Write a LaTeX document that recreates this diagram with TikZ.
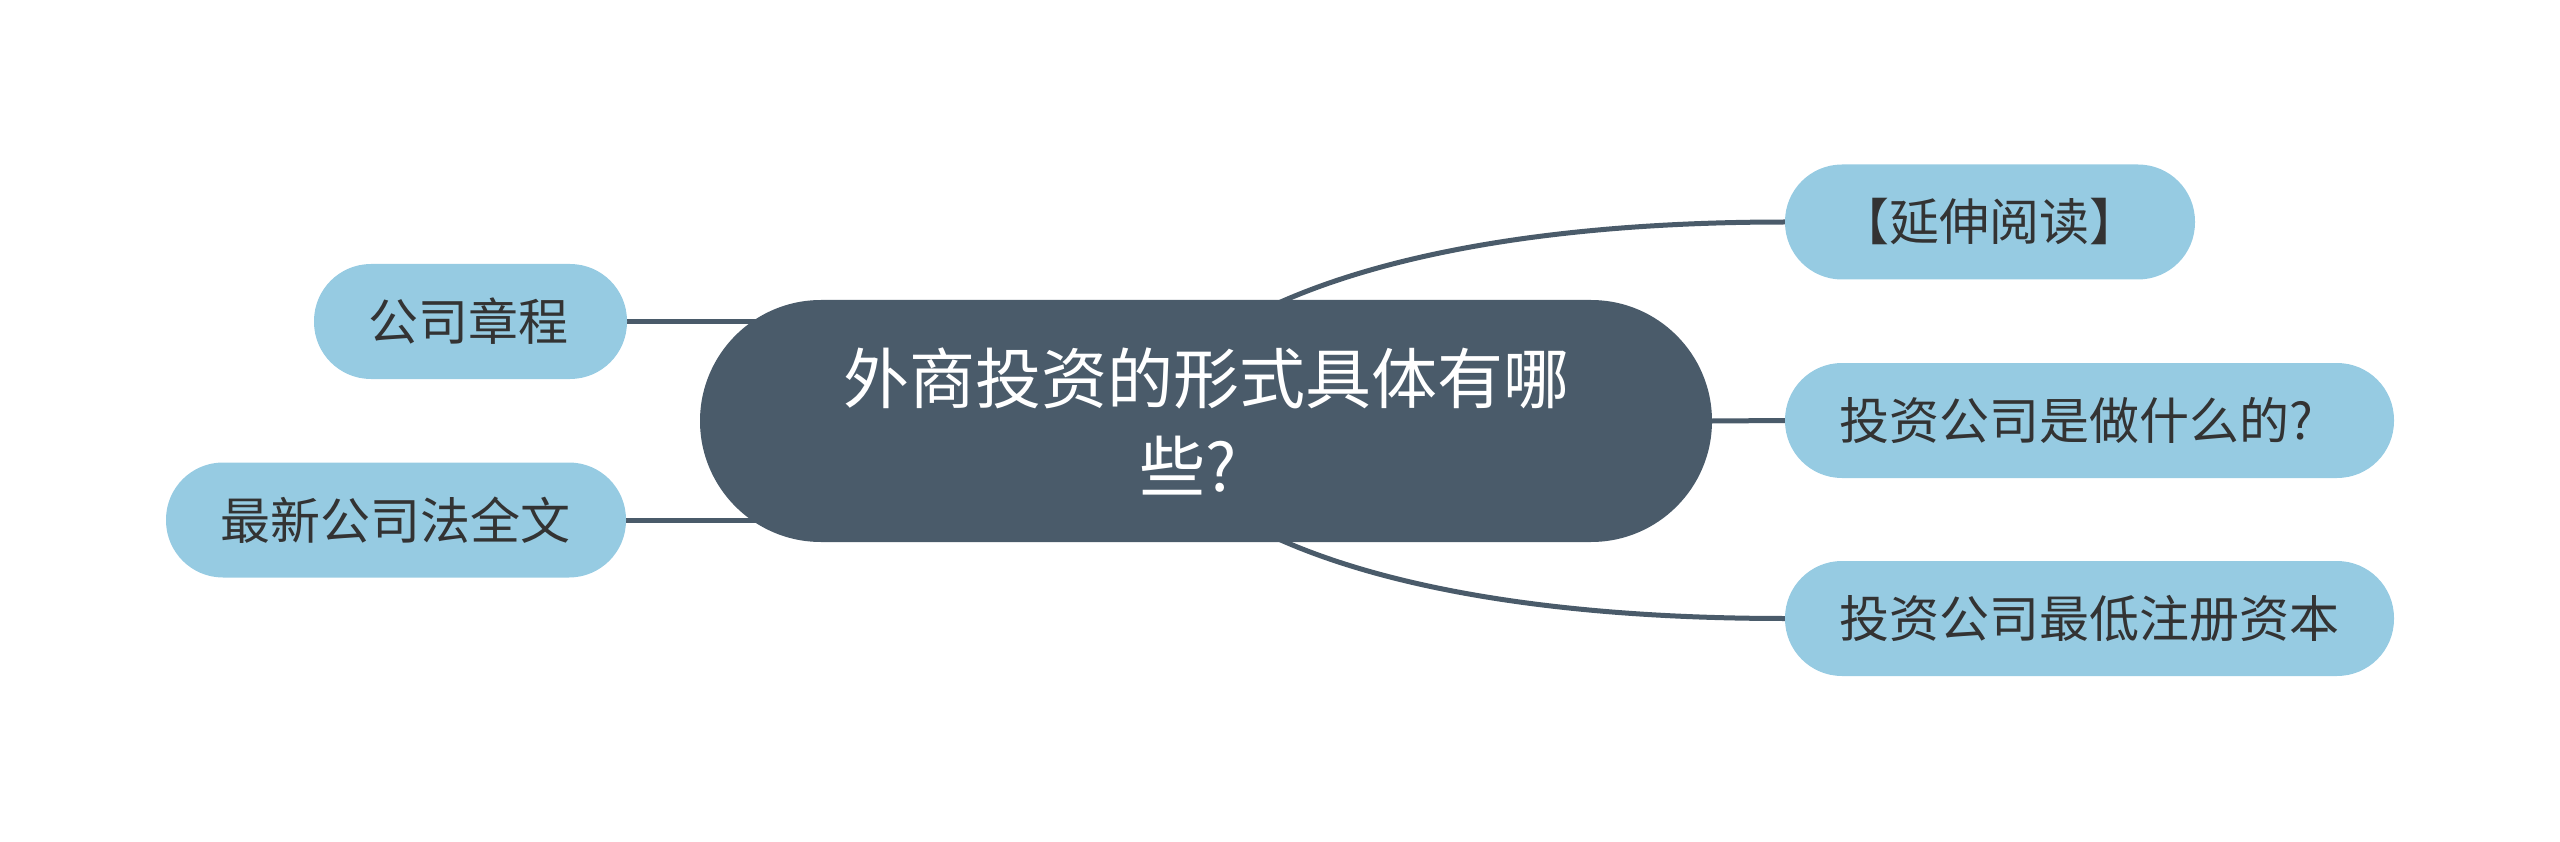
\documentclass[tikz,border=0pt]{standalone}
\usepackage{fontspec}
\newfontfamily\cjk{Noto Sans CJK SC}
\usetikzlibrary{backgrounds}
\definecolor{hub}{HTML}{4A5B6A}
\definecolor{leaf}{HTML}{96CBE2}
\definecolor{ink}{HTML}{333333}
\begin{document}
\begin{tikzpicture}[x=1pt,y=-1pt,
  hubnode/.style={fill=hub, text=white, font=\cjk\fontsize{66}{88}\selectfont,
    rounded corners=121pt, minimum width=1012pt, minimum height=242pt,
    inner sep=0pt, align=center},
  leafnode/.style={fill=leaf, text=ink, font=\cjk\fontsize{50}{60}\selectfont,
    rounded corners=57pt, minimum height=115pt, inner xsep=54pt, inner ysep=0pt,
    align=left},
  link/.style={draw=hub, line width=5pt}]
\useasboundingbox (0,0) rectangle (2560,842);
\node[hubnode] (c) at (1206,421) {外商投资的形式具体有哪\\些?\hspace*{36pt}};
\node[leafnode, text width=302pt] (r1) at (1990,222) {【延伸阅读】};
\node[leafnode, text width=501pt] (r2) at (2089.5,420.5) {投资公司是做什么的?};
\node[leafnode, text width=501pt] (r3) at (2089.5,618.5) {投资公司最低注册资本};
\node[leafnode, text width=205pt] (l1) at (470.5,321.5) {公司章程};
\node[leafnode, text width=352pt] (l2) at (396,520) {最新公司法全文};
\begin{scope}[on background layer]
\draw[link] (l1.east) -- (l1.east -| c.center);
\draw[link] (l2.east) -- (l2.east -| c.center);
\draw[link] (c.east) -- (r2.west);
\draw[link] ([shift={(62,8)}]c.north) .. controls +(110,-52) and +(-235,0) .. (r1.west);
\draw[link] ([shift={(62,-8)}]c.south) .. controls +(110,52) and +(-235,0) .. (r3.west);
\end{scope}
\end{tikzpicture}
\end{document}
